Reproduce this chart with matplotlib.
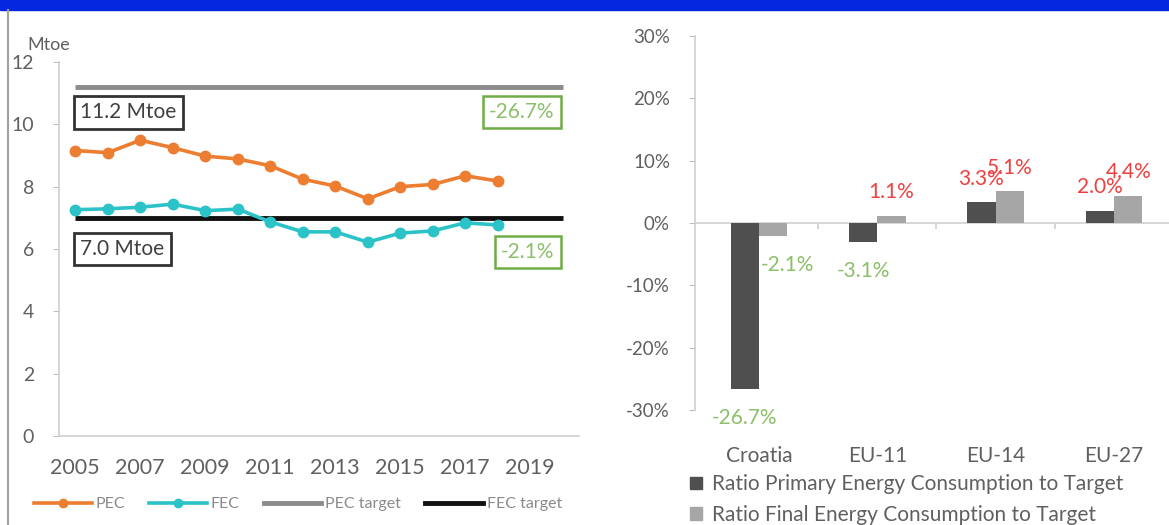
import matplotlib
matplotlib.use("Agg")
import matplotlib.pyplot as plt
from matplotlib.patches import Rectangle, Patch
from matplotlib.lines import Line2D
import numpy as np

plt.rcParams['font.family'] = ['Lato', 'DejaVu Sans']

# ---- data: left chart (Mtoe) ----
years = list(range(2005, 2019))
pec = [9.16, 9.09, 9.49, 9.25, 8.98, 8.89, 8.67, 8.24, 8.02, 7.61, 8.00, 8.07, 8.35, 8.18]
fec = [7.26, 7.29, 7.34, 7.44, 7.23, 7.28, 6.87, 6.55, 6.55, 6.22, 6.51, 6.58, 6.84, 6.77]
target_years = [2005, 2020]
pec_target = 11.2
fec_target = 7.0
year_ticks = [2005, 2007, 2009, 2011, 2013, 2015, 2017, 2019]

# ---- data: right chart (ratio to target, %) ----
regions = ["Croatia", "EU-11", "EU-14", "EU-27"]
ratio_primary = [-26.7, -3.1, 3.3, 2.0]
ratio_final = [-2.1, 1.1, 5.1, 4.4]

GREY_TXT = "#606060"
ORANGE = "#ed7d31"
CYAN = "#2cc3c8"
GREEN = "#70ad47"
LGREEN = "#8cbf6a"
RED = "#ee4040"

fig = plt.figure(figsize=(11.69, 5.25), dpi=100)
fig.patch.set_facecolor("white")
W, H = 1169, 525

# slide decoration: blue band on top, grey rule on left
fig.add_artist(Rectangle((0, 1 - 10 / H), 1, 10 / H, transform=fig.transFigure,
                         color="#0328e0", zorder=0))
fig.add_artist(Line2D([8 / W, 8 / W], [0, 1 - 10 / H], transform=fig.transFigure,
                      color="#a0a0a0", lw=1.5))

# ============ left: PEC / FEC ============
ax = fig.add_axes([59 / W, (H - 436) / H, 520 / W, 374 / H])
ax.plot(target_years, [pec_target] * 2, color="#8c8c8c", lw=3.5, solid_capstyle="butt")
ax.plot(target_years, [fec_target] * 2, color="#111111", lw=3.5, solid_capstyle="butt")
ax.plot(years, pec, color=ORANGE, lw=2.6, marker="o", ms=7.5, zorder=3)
ax.plot(years, fec, color=CYAN, lw=2.6, marker="o", ms=7.5, zorder=3)
ax.set_xlim(2004.5, 2020.5)
ax.set_ylim(0, 12)
ax.set_xticks(year_ticks)
ax.set_yticks(range(0, 13, 2))
ax.tick_params(axis="x", length=0, pad=16, labelsize=15.5, labelcolor=GREY_TXT)
ax.tick_params(axis="y", length=4, color="#bfbfbf", pad=14, labelsize=14, labelcolor=GREY_TXT)
for s in ["top", "right"]:
    ax.spines[s].set_visible(False)
for s in ["left", "bottom"]:
    ax.spines[s].set_color("#d0d0d0")
    ax.spines[s].set_linewidth(1.2)
ax.text(-0.02, 1.025, "Mtoe", transform=ax.transAxes, fontsize=13, color=GREY_TXT,
        ha="center", va="bottom")

box_dark = dict(boxstyle="square,pad=0.3", fc="white", ec="#333333", lw=2)
box_green = dict(boxstyle="square,pad=0.3", fc="white", ec=GREEN, lw=1.8)
ax.text(2005.15, 10.38, f"{pec_target:.1f} Mtoe", fontsize=15, color="#404040",
        ha="left", va="center", bbox=box_dark)
ax.text(2005.15, 6.0, f"{fec_target:.1f} Mtoe", fontsize=15, color="#404040",
        ha="left", va="center", bbox=box_dark)
ax.text(2019.75, 10.4, f"{ratio_primary[0]:.1f}%", fontsize=15, color=LGREEN,
        ha="right", va="center", bbox=box_green)
ax.text(2019.75, 5.9, f"{ratio_final[0]:.1f}%", fontsize=15, color=LGREEN,
        ha="right", va="center", bbox=box_green)

h_left = [Line2D([], [], color=ORANGE, lw=2.6, marker="o", ms=6),
          Line2D([], [], color=CYAN, lw=2.6, marker="o", ms=6),
          Line2D([], [], color="#8c8c8c", lw=3.5),
          Line2D([], [], color="#111111", lw=3.5)]
fig.legend(h_left, ["PEC", "FEC", "PEC target", "FEC target"], ncol=4,
           loc="center left", bbox_to_anchor=(20 / W, 21 / H), frameon=False,
           fontsize=11.5, labelcolor="#8a8a8a", handlelength=3.6, handletextpad=0.25,
           columnspacing=1.5)

# ============ right: ratio to target ============
bx = fig.add_axes([695 / W, (H - 410) / H, 477 / W, 374 / H])
x = np.arange(len(regions))
bw = 0.24
bx.bar(x - bw / 2, ratio_primary, bw, color="#4f4f4f", zorder=2)
bx.bar(x + bw / 2, ratio_final, bw, color="#a6a6a6", zorder=2)
bx.set_xlim(-0.54, 3.49)
bx.set_ylim(-30, 30)
bx.set_yticks(range(-30, 31, 10))
bx.set_yticklabels([f"{v}%" for v in range(-30, 31, 10)])
bx.set_xticks(x)
bx.set_xticklabels(regions)
bx.tick_params(axis="x", length=0, pad=26, labelsize=15, labelcolor=GREY_TXT)
bx.tick_params(axis="y", length=4, color="#bfbfbf", pad=14, labelsize=13.5, labelcolor=GREY_TXT)
for s in ["top", "right", "bottom"]:
    bx.spines[s].set_visible(False)
bx.spines["left"].set_color("#d0d0d0")
bx.spines["left"].set_linewidth(1.2)
bx.axhline(0, color="#d0d0d0", lw=1.2, zorder=1)
bx.vlines(x[:-1] + 0.5, -0.9, 0, color="#d0d0d0", lw=1.2)

# data labels; the Croatia final label is nudged right by Excel
nudge_final = [0.12, 0, 0, 0]
for i in range(len(regions)):
    for xc, v, dx in [(x[i] - bw / 2, ratio_primary[i], 0), (x[i] + bw / 2, ratio_final[i], nudge_final[i])]:
        col = RED if v > 0 else LGREEN
        yy = v + 3.8 if v > 0 else v - 4.6
        bx.text(xc + dx, yy, f"{v:.1f}%", fontsize=15, color=col, ha="center",
                va="center", clip_on=False)

h_right = [Patch(color="#4f4f4f"), Patch(color="#a6a6a6")]
fig.legend(h_right, ["Ratio Primary Energy Consumption to Target",
                     "Ratio Final Energy Consumption to Target"],
           loc="upper left", bbox_to_anchor=(682 / W, (H - 466) / H), frameon=False,
           fontsize=15, labelcolor=GREY_TXT, handlelength=0.55, handleheight=0.55,
           handletextpad=0.5, labelspacing=0.5, borderaxespad=0)

fig.savefig("out.png", dpi=100)
